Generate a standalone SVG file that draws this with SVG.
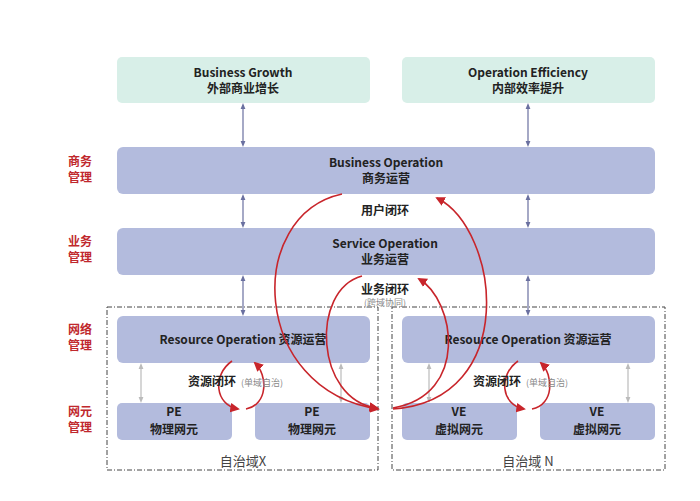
<svg xmlns="http://www.w3.org/2000/svg" width="700" height="501" viewBox="0 0 700 501">
<style>
text{font-family:"Noto Sans CJK SC","Liberation Sans",sans-serif;font-weight:bold;fill:#222;text-anchor:middle}
.t{fill:#d8efe8}.b{fill:#b3bbdd}
.lab{fill:#c0282d;font-size:12px}
.s{font-size:12px}.g{font-size:9px;fill:#888;font-weight:normal}
.n{font-size:13px;font-weight:normal;fill:#444}
.box{fill:none;stroke:#444;stroke-width:1;stroke-dasharray:5,2,1,2}
.va{stroke:#6a70a0;stroke-width:1.2;marker-start:url(#ad);marker-end:url(#ad)}
.vg{stroke:#bbb;stroke-width:1.2;marker-start:url(#ag);marker-end:url(#ag)}
.r{fill:none;stroke:#c8252b;stroke-width:1.6;marker-end:url(#ar)}
</style>
<defs>
<marker id="ad" viewBox="0 0 10 10" refX="5" refY="5" markerWidth="5" markerHeight="5" orient="auto-start-reverse"><path d="M0,1L10,5L0,9z" fill="#6a70a0"/></marker>
<marker id="ag" viewBox="0 0 10 10" refX="5" refY="5" markerWidth="5" markerHeight="5" orient="auto-start-reverse"><path d="M0,1L10,5L0,9z" fill="#bbb"/></marker>
<marker id="ar" viewBox="0 0 10 10" refX="8" refY="5" markerWidth="6" markerHeight="6" orient="auto"><path d="M0,0L10,5L0,10z" fill="#c8252b"/></marker>
</defs>
<rect width="700" height="501" fill="#fff"/>
<g id="labels">
<text class="lab" x="80" y="166">商务</text><text class="lab" x="80" y="182">管理</text>
<text class="lab" x="80" y="246">业务</text><text class="lab" x="80" y="262">管理</text>
<text class="lab" x="80" y="334">网络</text><text class="lab" x="80" y="350">管理</text>
<text class="lab" x="80" y="416">网元</text><text class="lab" x="80" y="432">管理</text>
</g>
<g id="domainX"><rect class="box" x="107" y="307" width="271" height="163"/><text class="n" x="243" y="466">自治域X</text></g>
<g id="domainN"><rect class="box" x="392" y="307" width="273" height="163"/><text class="n" x="528" y="466">自治域 N</text></g>
<g id="growth"><rect class="t" x="117" y="57" width="253" height="46" rx="5"/><text class="s" x="243" y="77">Business Growth</text><text class="s" x="243" y="93">外部商业增长</text></g>
<g id="efficiency"><rect class="t" x="402" y="57" width="253" height="46" rx="5"/><text class="s" x="528" y="77">Operation Efficiency</text><text class="s" x="528" y="93">内部效率提升</text></g>
<g id="bizop"><rect class="b" x="117" y="147" width="538" height="47" rx="6"/><text class="s" x="386" y="167">Business Operation</text><text class="s" x="386" y="183">商务运营</text></g>
<g id="svcop"><rect class="b" x="117" y="228" width="538" height="47" rx="6"/><text class="s" x="385" y="248">Service  Operation</text><text class="s" x="385" y="264">业务运营</text></g>
<g id="resX"><rect class="b" x="117" y="316" width="253" height="47" rx="6"/><text class="s" x="243" y="344">Resource Operation  资源运营</text></g>
<g id="resN"><rect class="b" x="402" y="316" width="253" height="47" rx="6"/><text class="s" x="528" y="344">Resource Operation 资源运营</text></g>
<g id="pe1"><rect class="b" x="117" y="403" width="115" height="37" rx="5"/><text class="s" x="174" y="416">PE</text><text class="s" x="174" y="434">物理网元</text></g>
<g id="pe2"><rect class="b" x="255" y="403" width="115" height="37" rx="5"/><text class="s" x="312" y="416">PE</text><text class="s" x="312" y="434">物理网元</text></g>
<g id="ve1"><rect class="b" x="402" y="403" width="115" height="37" rx="5"/><text class="s" x="459" y="416">VE</text><text class="s" x="459" y="434">虚拟网元</text></g>
<g id="ve2"><rect class="b" x="540" y="403" width="115" height="37" rx="5"/><text class="s" x="597" y="416">VE</text><text class="s" x="597" y="434">虚拟网元</text></g>
<g id="connectors">
<line class="va" x1="243" y1="106" x2="243" y2="144"/><line class="va" x1="528" y1="106" x2="528" y2="144"/>
<line class="va" x1="243" y1="197" x2="243" y2="225"/><line class="va" x1="528" y1="197" x2="528" y2="225"/>
<line class="va" x1="243" y1="278" x2="243" y2="313"/><line class="va" x1="528" y1="278" x2="528" y2="313"/>
<line class="vg" x1="141" y1="366" x2="141" y2="400"/><line class="vg" x1="341" y1="366" x2="341" y2="400"/>
<line class="vg" x1="429" y1="366" x2="429" y2="400"/><line class="vg" x1="628" y1="366" x2="628" y2="400"/>
<path class="r" d="M342,194 C245,215 250,390 378,409"/>
<path class="r" d="M393,409 C520,400 500,230 437,198"/>
<path class="r" d="M362,276 C310,290 315,400 377,408"/>
<path class="r" d="M393,408 C470,395 455,300 419,279"/>
<path class="r" d="M232,361 C212,375 215,405 238,409"/>
<path class="r" d="M246,409 C268,405 268,375 255,363"/>
<path class="r" d="M518,361 C498,375 501,405 524,409"/>
<path class="r" d="M532,409 C554,405 554,375 541,363"/>
</g>
<g id="looplabels">
<text class="s" x="385" y="215">用户闭环</text>
<text class="s" x="385" y="294">业务闭环</text><text class="g" x="385" y="306">(跨域协同)</text>
<text class="s" x="212" y="386">资源闭环</text><text class="g" x="262" y="386">(单域自治)</text>
<text class="s" x="497" y="386">资源闭环</text><text class="g" x="547" y="386">(单域自治)</text>
</g>
</svg>
